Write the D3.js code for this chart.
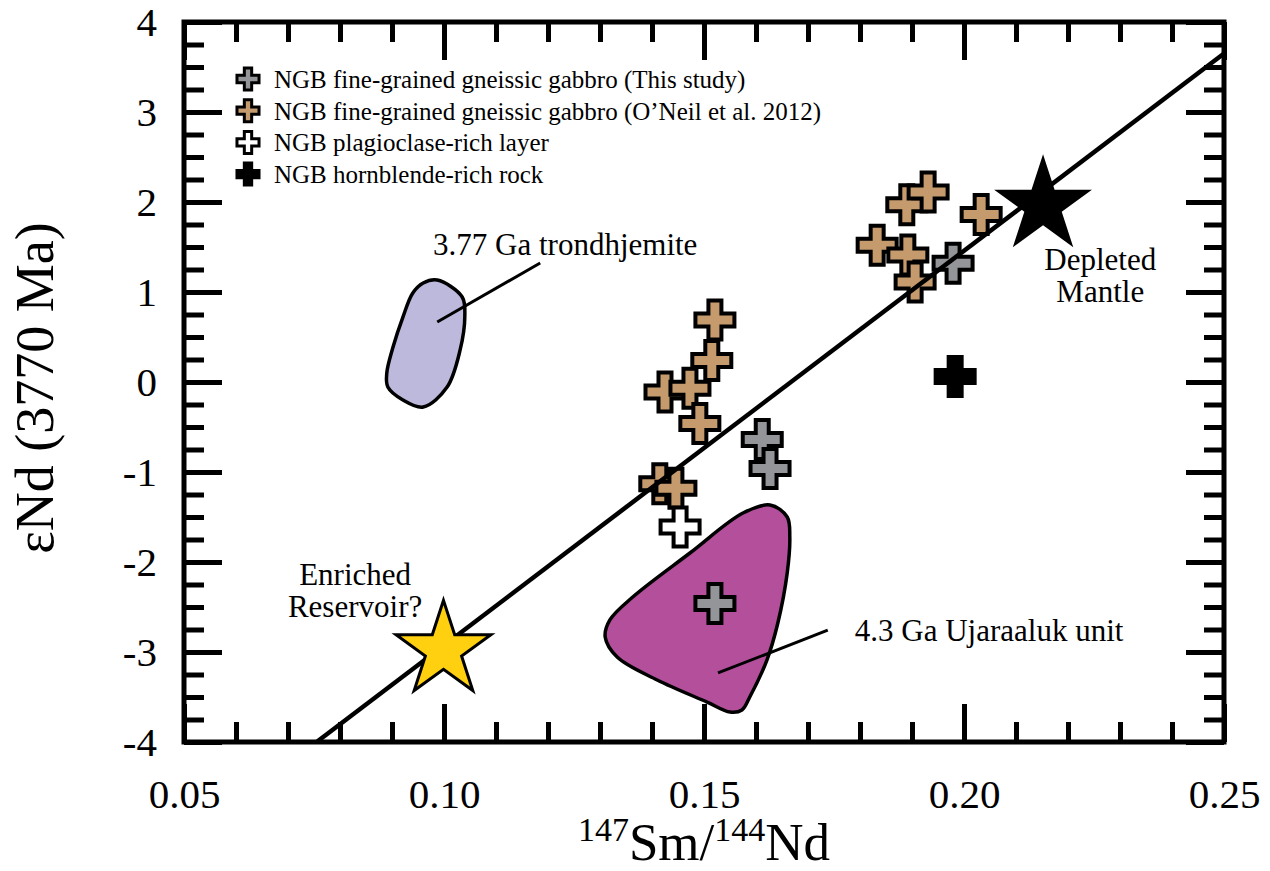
<!DOCTYPE html>
<html>
<head>
<meta charset="utf-8">
<script src="https://cdn.jsdelivr.net/npm/d3@7"></script>
<style>
  body { margin: 0; background: #fff; }
  svg { display: block; font-family: "Liberation Serif", "Times New Roman", serif; }
  svg text { font-family: "Liberation Serif", "Times New Roman", serif !important; }
  .tick line { stroke: #000; stroke-width: 5px !important; }
</style>
</head>
<body>
<div id="chart"></div>
<script>
// valeurs
const xTicks = [0.05, 0.10, 0.15, 0.20, 0.25];
const yTicks = [-4, -3, -2, -1, 0, 1, 2, 3, 4];

const grayX = [0.1979, 0.1612, 0.1627, 0.1521];
const grayY = [1.32, -0.64, -0.96, -2.46];

const tanX = [0.1890, 0.1931, 0.2033, 0.1833, 0.1892, 0.1906, 0.1521, 0.1515, 0.1425, 0.1473, 0.1492, 0.1415, 0.1446];
const tanY = [1.97, 2.11, 1.86, 1.52, 1.41, 1.11, 0.69, 0.24, -0.11, -0.07, -0.46, -1.13, -1.18];

const whiteX = [0.1454];
const whiteY = [-1.61];

const blackX = [0.1983];
const blackY = [0.06];

const starNames = ["Enriched Reservoir?", "Depleted Mantle"];
const starX = [0.0999, 0.2152];
const starY = [-2.98, 1.96];

// evolution line
const lineX = [0.0755, 0.25];
const lineY = [-4, 3.65];

// 3.77 Ga trondhjemite field
const trondX = [0.0987, 0.1035, 0.1040, 0.1031, 0.1006, 0.0960, 0.0921, 0.0892, 0.0890, 0.0902, 0.0921, 0.0940, 0.0960];
const trondY = [1.133, 0.944, 0.722, 0.356, -0.056, -0.278, -0.2, -0.056, 0.1, 0.389, 0.722, 0.989, 1.1];

// 4.3 Ga Ujaraaluk unit field
const ujarX = [0.1627, 0.1660, 0.1665, 0.1660, 0.1642, 0.1621, 0.1588, 0.1573, 0.1550, 0.1506, 0.1410, 0.1333, 0.1310, 0.1319, 0.1363, 0.1473, 0.1575];
const ujarY = [-1.367, -1.5, -1.722, -2.122, -2.678, -3.089, -3.5, -3.644, -3.667, -3.556, -3.311, -3.056, -2.833, -2.644, -2.389, -1.9, -1.456];

const legendLabels = [
  "NGB fine-grained gneissic gabbro (This study)",
  "NGB fine-grained gneissic gabbro (O\u2019Neil et al. 2012)",
  "NGB plagioclase-rich layer",
  "NGB hornblende-rich rock"
];
const legendColors = ["#939598", "#c59b6d", "#ffffff", "#000000"];

const width = 1270, height = 871;
const margin = { top: 22, right: 46, bottom: 129, left: 184 };
const serif = '"Liberation Serif", "Times New Roman", serif';

const svg = d3.select("#chart")
  .append("svg")
  .attr("width", width)
  .attr("height", height);

const x = d3.scaleLinear().domain([0.05, 0.25]).range([margin.left, width - margin.right]);
const y = d3.scaleLinear().domain([-4, 4]).range([height - margin.bottom, margin.top]);

const x0 = x.range()[0], x1 = x.range()[1], y0 = y.range()[0], y1 = y.range()[1];

// champs (polygones)
const area = d3.line()
  .x(d => x(d[0]))
  .y(d => y(d[1]))
  .curve(d3.curveCatmullRomClosed.alpha(0.5));

svg.append("path")
  .datum(d3.zip(trondX, trondY))
  .attr("d", area)
  .attr("fill", "#bdb9dd")
  .attr("stroke", "#000")
  .attr("stroke-width", 3.5);

svg.append("path")
  .datum(d3.zip(ujarX, ujarY))
  .attr("d", area)
  .attr("fill", "#b44f9c")
  .attr("stroke", "#000")
  .attr("stroke-width", 3.5);

// lignes de rappel
const leaders = [
  { x: [0.0987, 0.1185], y: [0.667, 1.322] },
  { x: [0.1527, 0.1738], y: [-3.233, -2.756] }
];
leaders.forEach(l => {
  svg.append("line")
    .attr("x1", x(l.x[0])).attr("y1", y(l.y[0]))
    .attr("x2", x(l.x[1])).attr("y2", y(l.y[1]))
    .attr("stroke", "#000")
    .attr("stroke-width", 3);
});

// croix
const cross = d3.symbol().type(d3.symbolCross);

function drawCrosses(xs, ys, fill) {
  svg.append("g")
    .selectAll("path")
    .data(d3.zip(xs, ys))
    .join("path")
    .attr("d", cross.size(845)())
    .attr("transform", d => "translate(" + x(d[0]) + "," + y(d[1]) + ")")
    .attr("fill", fill)
    .attr("stroke", "#000")
    .attr("stroke-width", 4)
    .attr("stroke-linejoin", "miter");
}
drawCrosses(tanX, tanY, "#c59b6d");
drawCrosses(grayX, grayY, "#939598");
drawCrosses(whiteX, whiteY, "#ffffff");
drawCrosses(blackX, blackY, "#000000");

// droite
svg.append("line")
  .attr("x1", x(lineX[0])).attr("y1", y(lineY[0]))
  .attr("x2", x(lineX[1])).attr("y2", y(lineY[1]))
  .attr("stroke", "#000")
  .attr("stroke-width", 4.5);

// etoiles
const star = d3.symbol().type(d3.symbolStar);
svg.append("path")
  .attr("d", star.size(2790)())
  .attr("transform", "translate(" + x(starX[0]) + "," + y(starY[0]) + ")")
  .attr("fill", "#ffd00f")
  .attr("stroke", "#000")
  .attr("stroke-width", 3);
svg.append("path")
  .attr("d", star.size(2970)())
  .attr("transform", "translate(" + x(starX[1]) + "," + y(starY[1]) + ")")
  .attr("fill", "#000");

// annotations
const annot = svg.append("g").style("font-size", "31px").attr("fill", "#000");
annot.append("text").attr("x", x(0.0979)).attr("y", y(1.411)).text("3.77 Ga trondhjemite");
annot.append("text").attr("x", x(0.179)).attr("y", y(-2.878)).text("4.3 Ga Ujaraaluk unit");
annot.append("text").attr("x", x(0.0829)).attr("y", y(-2.256)).attr("text-anchor", "middle").text("Enriched");
annot.append("text").attr("x", x(0.0829)).attr("y", y(-2.611)).attr("text-anchor", "middle").text("Reservoir?");
annot.append("text").attr("x", x(0.2262)).attr("y", y(1.244)).attr("text-anchor", "middle").text("Depleted");
annot.append("text").attr("x", x(0.2262)).attr("y", y(0.889)).attr("text-anchor", "middle").text("Mantle");

// axes : graduations vers l'interieur sur les 4 cotes
const xMinor = d3.range(0.05, 0.2501, 0.01);
const yMinor = d3.range(-4, 4.001, 0.25);
const majLen = 38, minLen = 20;

function styleAxis(g) {
  g.attr("font-family", serif).attr("font-size", null);
  g.select(".domain").remove();
  g.selectAll(".tick line")
    .attr("stroke", "#000")
    .attr("stroke-width", 5);
  g.selectAll("text")
    .attr("fill", "#000")
    .attr("font-family", serif)
    .style("font-size", "41px");
}

svg.append("g").attr("transform", "translate(0," + y0 + ")")
  .call(d3.axisBottom(x).tickValues(xMinor).tickSize(-minLen).tickFormat("")).call(styleAxis);
svg.append("g").attr("transform", "translate(0," + y0 + ")")
  .call(d3.axisBottom(x).tickValues(xTicks).tickSize(-majLen).tickPadding(37).tickFormat(d3.format(".2f"))).call(styleAxis);
svg.append("g").attr("transform", "translate(0," + y1 + ")")
  .call(d3.axisTop(x).tickValues(xMinor).tickSize(-minLen).tickFormat("")).call(styleAxis);
svg.append("g").attr("transform", "translate(0," + y1 + ")")
  .call(d3.axisTop(x).tickValues(xTicks).tickSize(-majLen).tickFormat("")).call(styleAxis);

svg.append("g").attr("transform", "translate(" + x0 + ",0)")
  .call(d3.axisLeft(y).tickValues(yMinor).tickSize(-minLen).tickFormat("")).call(styleAxis);
svg.append("g").attr("transform", "translate(" + x0 + ",0)")
  .call(d3.axisLeft(y).tickValues(yTicks).tickSize(-majLen).tickPadding(27).tickFormat(d => String(d))).call(styleAxis);
svg.append("g").attr("transform", "translate(" + x1 + ",0)")
  .call(d3.axisRight(y).tickValues(yMinor).tickSize(-minLen).tickFormat("")).call(styleAxis);
svg.append("g").attr("transform", "translate(" + x1 + ",0)")
  .call(d3.axisRight(y).tickValues(yTicks).tickSize(-majLen).tickFormat("")).call(styleAxis);

// cadre
svg.append("rect")
  .attr("x", x0).attr("y", y1)
  .attr("width", x1 - x0).attr("height", y0 - y1)
  .attr("fill", "none")
  .attr("stroke", "#000")
  .attr("stroke-width", 5);

// titres des axes
const xt = svg.append("text")
  .attr("x", (x0 + x1) / 2)
  .attr("y", 860)
  .attr("text-anchor", "middle")
  .style("font-size", "53px");
xt.append("tspan").attr("font-size", "34px").attr("dy", -19).text("147");
xt.append("tspan").attr("dy", 19).text("Sm/");
xt.append("tspan").attr("font-size", "34px").attr("dy", -19).text("144");
xt.append("tspan").attr("dy", 19).text("Nd");

svg.append("text")
  .attr("transform", "translate(53," + ((y0 + y1) / 2 + 6) + ") rotate(-90)")
  .attr("text-anchor", "middle")
  .style("font-size", "54px")
  .text("\u03b5Nd (3770 Ma)");

// legende
const legend = svg.append("g")
  .selectAll("g")
  .data(legendLabels)
  .join("g")
  .attr("transform", (d, i) => "translate(248," + (79 + i * 31.7) + ")");

legend.append("path")
  .attr("d", cross.size(270)())
  .attr("fill", (d, i) => legendColors[i])
  .attr("stroke", "#000")
  .attr("stroke-width", 3);

legend.append("text")
  .attr("x", 26)
  .attr("y", 9)
  .style("font-size", "25px")
  .text(d => d);
</script>
</body>
</html>
